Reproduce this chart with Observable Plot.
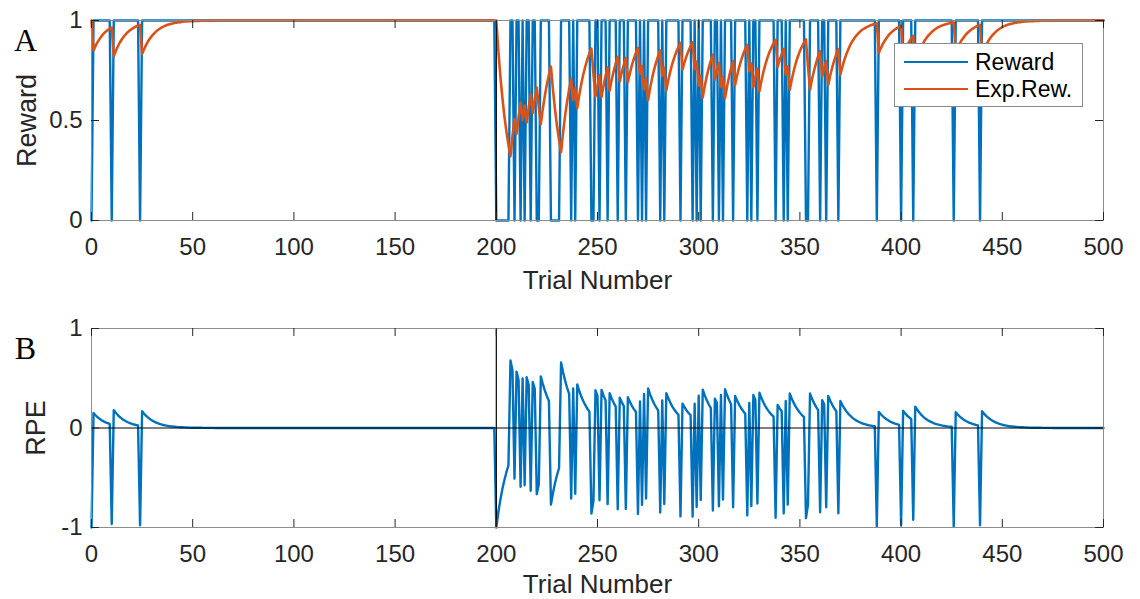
<!DOCTYPE html>
<html>
<head>
<meta charset="utf-8">
<script src="https://cdn.jsdelivr.net/npm/d3@7"></script>
<script src="https://cdn.jsdelivr.net/npm/@observablehq/plot@0.6"></script>
<style>
html,body{margin:0;padding:0;background:#fff;}
#chart{position:relative;width:1140px;height:599px;overflow:hidden;font-family:"Liberation Sans",Arial,Helvetica,sans-serif;color:#262626;}
#chart svg{position:absolute;left:0;}
#legend{position:absolute;left:894px;top:43px;width:189px;height:64px;background:#fff;border:1px solid #8a8a8a;box-sizing:border-box;}
.swatch{position:absolute;left:9px;width:64px;height:0;border-top:2.4px solid;}
.lab{position:absolute;left:80px;font-size:23px;line-height:23px;white-space:nowrap;color:#000;}
</style>
</head>
<body>
<div id="chart"></div>
<script>
// ---------------- data ----------------
const xTicks = [0, 50, 100, 150, 200, 250, 300, 350, 400, 450, 500];
const yTicksA = [0, 0.5, 1];
const yTicksB = [-1, 0, 1];
const switchTrial = 200;
const seriesNames = ["Reward", "Exp.Rew."];

// trials on which the reward was 0 (all other trials: reward 1)
const rewardZeroTrials = [0, 10, 24,
  200, 201, 202, 203, 204, 205, 206, 209, 212, 214, 217, 220, 221, 227, 228, 229, 230, 231,
  237, 239, 247, 248, 251, 255, 260, 264, 270, 272, 274, 281, 283, 291, 297, 299, 301,
  307, 310, 312, 317, 324, 326, 329, 338, 342, 344, 353, 354, 360, 363, 369,
  388, 400, 406, 426, 439];

// expected reward, trials 0..500
const expected = [
1,0.85,0.873,0.892,0.908,0.922,0.934,0.944,0.952,0.959,
0.965,0.821,0.847,0.870,0.890,0.906,0.920,0.932,0.943,0.951,
0.958,0.965,0.970,0.974,0.978,0.832,0.857,0.878,0.897,0.912,
0.925,0.936,0.946,0.954,0.961,0.967,0.972,0.976,0.980,0.983,
0.985,0.988,0.989,0.991,0.992,0.994,0.995,0.995,0.996,0.997,
0.997,0.998,0.998,0.998,0.999,0.999,0.999,0.999,0.999,0.999,
0.999,1,1,1,1,1,1,1,1,1,
1,1,1,1,1,1,1,1,1,1,
1,1,1,1,1,1,1,1,1,1,
1,1,1,1,1,1,1,1,1,1,
1,1,1,1,1,1,1,1,1,1,
1,1,1,1,1,1,1,1,1,1,
1,1,1,1,1,1,1,1,1,1,
1,1,1,1,1,1,1,1,1,1,
1,1,1,1,1,1,1,1,1,1,
1,1,1,1,1,1,1,1,1,1,
1,1,1,1,1,1,1,1,1,1,
1,1,1,1,1,1,1,1,1,1,
1,1,1,1,1,1,1,1,1,1,
1,1,1,1,1,1,1,1,1,1,
1,0.85,0.723,0.614,0.522,0.444,0.377,0.321,0.423,0.509,
0.433,0.518,0.590,0.502,0.576,0.490,0.566,0.631,0.537,0.606,
0.665,0.566,0.481,0.559,0.625,0.681,0.729,0.770,0.654,0.556,
0.473,0.402,0.342,0.440,0.524,0.596,0.656,0.708,0.602,0.661,
0.562,0.628,0.684,0.731,0.771,0.806,0.835,0.860,0.731,0.621,
0.678,0.726,0.617,0.675,0.724,0.765,0.650,0.703,0.747,0.785,
0.817,0.695,0.741,0.780,0.813,0.691,0.737,0.777,0.810,0.839,
0.863,0.733,0.773,0.657,0.709,0.602,0.662,0.713,0.756,0.792,
0.824,0.850,0.723,0.764,0.650,0.702,0.747,0.785,0.817,0.845,
0.868,0.888,0.755,0.791,0.823,0.849,0.872,0.891,0.757,0.794,
0.675,0.724,0.615,0.673,0.722,0.764,0.799,0.829,0.705,0.749,
0.787,0.669,0.718,0.611,0.669,0.719,0.761,0.797,0.677,0.726,
0.767,0.802,0.832,0.857,0.878,0.747,0.785,0.667,0.717,0.759,
0.646,0.699,0.744,0.782,0.815,0.843,0.866,0.886,0.903,0.768,
0.803,0.832,0.858,0.729,0.770,0.654,0.706,0.750,0.788,0.820,
0.847,0.870,0.889,0.906,0.770,0.654,0.706,0.750,0.788,0.820,
0.847,0.720,0.762,0.797,0.678,0.726,0.767,0.802,0.832,0.857,
0.729,0.769,0.804,0.833,0.858,0.880,0.898,0.913,0.926,0.937,
0.947,0.955,0.961,0.967,0.972,0.976,0.980,0.983,0.986,0.838,
0.862,0.883,0.900,0.915,0.928,0.939,0.948,0.956,0.962,0.968,
0.973,0.827,0.853,0.875,0.894,0.910,0.923,0.785,0.817,0.845,
0.868,0.888,0.905,0.919,0.931,0.941,0.950,0.958,0.964,0.969,
0.974,0.978,0.981,0.984,0.986,0.988,0.990,0.842,0.865,0.886,
0.903,0.917,0.930,0.940,0.949,0.957,0.963,0.969,0.974,0.978,
0.831,0.856,0.878,0.896,0.912,0.925,0.936,0.946,0.954,0.961,
0.967,0.972,0.976,0.980,0.983,0.985,0.988,0.989,0.991,0.992,
0.994,0.995,0.995,0.996,0.997,0.997,0.998,0.998,0.998,0.999,
0.999,0.999,0.999,0.999,0.999,1,1,1,1,1,
1,1,1,1,1,1,1,1,1,1,
1,1,1,1,1,1,1,1,1,1,
1
];

// reward prediction error, trials 0..500
const rpe = [
-1,0.15,0.128,0.108,0.092,0.078,0.067,0.057,0.048,0.041,
-0.965,0.180,0.153,0.130,0.110,0.094,0.080,0.068,0.058,0.049,
0.042,0.035,0.030,0.026,-0.978,0.169,0.143,0.122,0.104,0.088,
0.075,0.064,0.054,0.046,0.039,0.033,0.028,0.024,0.020,0.017,
0.015,0.013,0.011,0.009,0.008,0.007,0.006,0.005,0.004,0.003,
0.003,0.002,0.002,0.002,0.002,0.001,0.001,0.001,0.001,0.001,
0.001,0,0,0,0,0,0,0,0,0,
0,0,0,0,0,0,0,0,0,0,
0,0,0,0,0,0,0,0,0,0,
0,0,0,0,0,0,0,0,0,0,
0,0,0,0,0,0,0,0,0,0,
0,0,0,0,0,0,0,0,0,0,
0,0,0,0,0,0,0,0,0,0,
0,0,0,0,0,0,0,0,0,0,
0,0,0,0,0,0,0,0,0,0,
0,0,0,0,0,0,0,0,0,0,
0,0,0,0,0,0,0,0,0,0,
0,0,0,0,0,0,0,0,0,0,
0,0,0,0,0,0,0,0,0,0,
0,0,0,0,0,0,0,0,0,0,
-1,-0.85,-0.723,-0.614,-0.522,-0.444,-0.377,0.679,0.578,-0.509,
0.567,0.482,-0.590,0.498,-0.576,0.510,0.434,-0.631,0.463,0.394,
-0.665,-0.566,0.519,0.441,0.375,0.319,0.271,-0.770,-0.654,-0.556,
-0.473,-0.402,0.658,0.560,0.476,0.404,0.344,-0.708,0.398,-0.661,
0.438,0.372,0.316,0.269,0.229,0.194,0.165,-0.860,-0.731,0.379,
0.322,-0.726,0.383,0.325,0.276,-0.765,0.350,0.297,0.253,0.215,
-0.817,0.305,0.259,0.220,-0.813,0.309,0.263,0.223,0.190,0.161,
-0.863,0.267,-0.773,0.343,-0.709,0.398,0.338,0.287,0.244,0.208,
0.176,-0.850,0.278,-0.764,0.350,0.298,0.253,0.215,0.183,0.155,
0.132,-0.888,0.245,0.209,0.177,0.151,0.128,-0.891,0.243,-0.794,
0.325,-0.724,0.385,0.327,0.278,0.236,0.201,-0.829,0.295,0.251,
-0.787,0.331,-0.718,0.389,0.331,0.281,0.239,-0.797,0.323,0.274,
0.233,0.198,0.169,0.143,-0.878,0.253,-0.785,0.333,0.283,-0.759,
0.355,0.301,0.256,0.218,0.185,0.157,0.134,0.114,-0.903,0.232,
0.197,0.168,-0.858,0.271,-0.770,0.346,0.294,0.250,0.212,0.181,
0.153,0.130,0.111,-0.906,-0.770,0.346,0.294,0.250,0.212,0.180,
-0.847,0.280,0.238,-0.797,0.322,0.274,0.233,0.198,0.168,-0.857,
0.272,0.231,0.196,0.167,0.142,0.121,0.102,0.087,0.074,0.063,
0.053,0.045,0.039,0.033,0.028,0.024,0.020,0.017,-0.986,0.162,
0.138,0.117,0.100,0.085,0.072,0.061,0.052,0.044,0.038,0.032,
-0.973,0.173,0.147,0.125,0.106,0.090,-0.923,0.215,0.183,0.155,
0.132,0.112,0.095,0.081,0.069,0.059,0.050,0.042,0.036,0.031,
0.026,0.022,0.019,0.016,0.014,0.012,-0.990,0.158,0.135,0.114,
0.097,0.083,0.070,0.060,0.051,0.043,0.037,0.031,0.026,-0.978,
0.169,0.144,0.122,0.104,0.088,0.075,0.064,0.054,0.046,0.039,
0.033,0.028,0.024,0.020,0.017,0.015,0.013,0.011,0.009,0.008,
0.007,0.006,0.005,0.004,0.003,0.003,0.002,0.002,0.002,0.002,
0.001,0.001,0.001,0.001,0.001,0,0,0,0,0,
0,0,0,0,0,0,0,0,0,0,
0,0,0,0,0,0,0,0,0,0,
0
];

// ---------------- table ----------------
const data = expected.map((v, i) => ({
  trial: i,
  reward: rewardZeroTrials.includes(i) ? 0 : 1,
  expected: v,
  rpe: rpe[i]
}));

const BLUE = "#0072BD", ORANGE = "#D95319", AX = "#262626";
const SANS = '"Liberation Sans", Arial, Helvetica, sans-serif';
const SERIF = '"Liberation Serif", "Times New Roman", serif';
const W = 1140, ML = 91, MR = 37;
const innerW = W - ML - MR;

function axesMarks(innerH, yTicks, ylabel, ylabelDx, letter, xlabelDy) {
  return [
    Plot.frame({stroke: "#8c8c8c", strokeWidth: 1}),
    Plot.tickX(xTicks, {x: d => d, insetTop: innerH - 8, stroke: AX, strokeWidth: 1}),
    Plot.tickX(xTicks, {x: d => d, insetBottom: innerH - 8, stroke: AX, strokeWidth: 1}),
    Plot.tickY(yTicks, {y: d => d, insetRight: innerW - 8, stroke: AX, strokeWidth: 1}),
    Plot.tickY(yTicks, {y: d => d, insetLeft: innerW - 8, stroke: AX, strokeWidth: 1}),
    Plot.axisX({ticks: xTicks, tickSize: 0, tickPadding: 17, fontSize: 24, label: null, tickFormat: d => String(d), fill: AX}),
    Plot.axisY({ticks: yTicks, tickSize: 0, tickPadding: 9, fontSize: 24, label: null, tickFormat: d => String(d), fill: AX}),
    Plot.text(["Trial Number"], {text: d => d, frameAnchor: "bottom", dy: xlabelDy, textAnchor: "middle", lineAnchor: "middle", fontSize: 26, fill: AX}),
    Plot.text([ylabel], {text: d => d, frameAnchor: "left", dx: ylabelDx, rotate: -90, textAnchor: "middle", lineAnchor: "middle", fontSize: 27, fill: AX}),
    Plot.text([letter], {text: d => d, frameAnchor: "top-left", dx: -66, dy: 20, textAnchor: "middle", lineAnchor: "middle", fontSize: 32, fontFamily: SERIF, fill: "#000"})
  ];
}

const plotA = Plot.plot({
  width: W, height: 300,
  marginLeft: ML, marginRight: MR, marginTop: 20, marginBottom: 80,
  style: {fontFamily: SANS, background: "transparent", overflow: "visible"},
  x: {domain: [0, 500]},
  y: {domain: [0, 1]},
  marks: [
    Plot.line(data, {x: "trial", y: "reward", stroke: BLUE, strokeWidth: 2.4}),
    Plot.line(data, {x: "trial", y: "expected", stroke: ORANGE, strokeWidth: 2.6}),
    Plot.ruleX([switchTrial], {stroke: "#000", strokeWidth: 1.2}),
    ...axesMarks(200, yTicksA, "Reward", -64, "A", 60)
  ]
});
plotA.style.top = "0px";

const plotB = Plot.plot({
  width: W, height: 299,
  marginLeft: ML, marginRight: MR, marginTop: 28, marginBottom: 72,
  style: {fontFamily: SANS, background: "transparent", overflow: "visible"},
  x: {domain: [0, 500]},
  y: {domain: [-1, 1]},
  marks: [
    Plot.line(data, {x: "trial", y: "rpe", stroke: BLUE, strokeWidth: 2.4}),
    Plot.ruleY([0], {stroke: "#000", strokeWidth: 1}),
    Plot.ruleX([switchTrial], {stroke: "#000", strokeWidth: 1.2}),
    ...axesMarks(199, yTicksB, "RPE", -55, "B", 57)
  ]
});
plotB.style.top = "300px";

const chart = document.getElementById("chart");
chart.appendChild(plotA);
chart.appendChild(plotB);

// legend (HTML, drawn on top of panel A)
const legend = document.createElement("div");
legend.id = "legend";
[[seriesNames[0], BLUE, 17, 7], [seriesNames[1], ORANGE, 44, 34]].forEach(([name, color, ly, ty]) => {
  const sw = document.createElement("div");
  sw.className = "swatch"; sw.style.top = ly + "px"; sw.style.borderTopColor = color;
  const lb = document.createElement("div");
  lb.className = "lab"; lb.style.top = ty + "px"; lb.textContent = name;
  legend.appendChild(sw); legend.appendChild(lb);
});
chart.appendChild(legend);
</script>
</body>
</html>
